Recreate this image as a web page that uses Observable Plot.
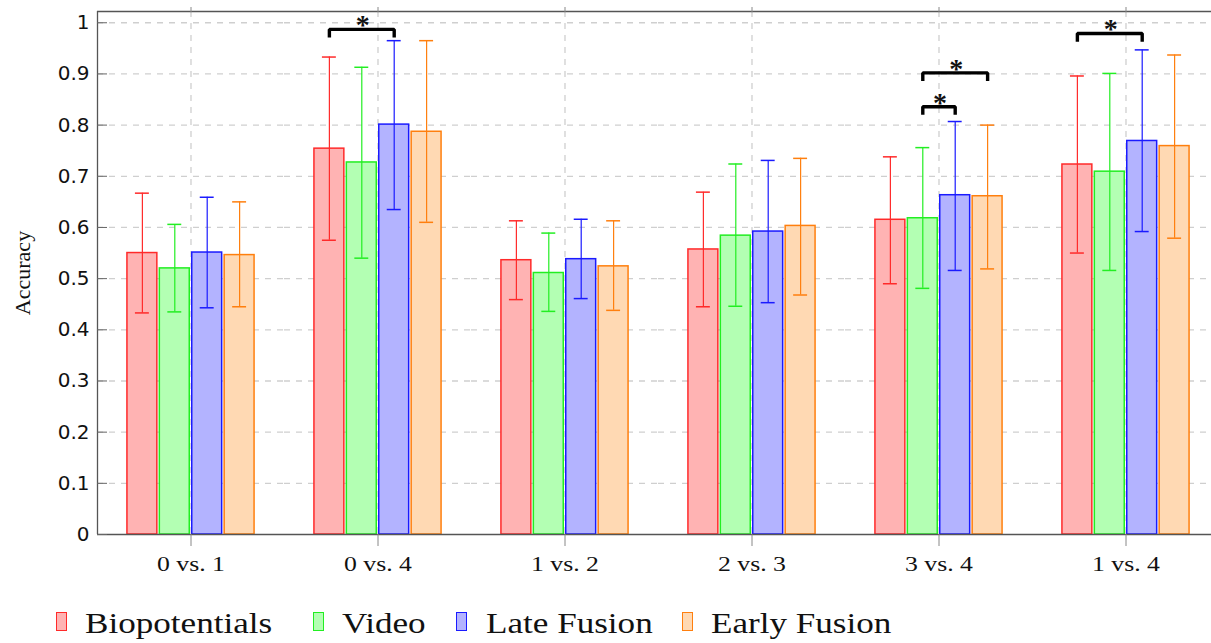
<!DOCTYPE html>
<html>
<head>
<meta charset="utf-8">
<script src="https://cdn.jsdelivr.net/npm/d3@7"></script>
<script src="https://cdn.jsdelivr.net/npm/@observablehq/plot@0.6"></script>
<style>
  html, body { margin: 0; padding: 0; background: #fff; overflow: hidden; }
  #wrap { position: relative; width: 1211px; height: 643px; overflow: hidden; background: #fff; }
  #legend { position: absolute; left: 0; top: 585px; width: 1211px; height: 58px; }
  .sw { position: absolute; top: 27px; width: 8.6px; height: 17px; border: 1.5px solid; }
  .tx { position: absolute; top: 23px; font-family: "Liberation Serif", serif; font-size: 30px; line-height: 1;
        transform: scaleX(1.17); transform-origin: left center; white-space: nowrap; color: #111; }
</style>
</head>
<body>
<div id="wrap"><div id="chart"></div><div id="legend"></div></div>
<script>
// ---------- data ----------
const groups = ["0 vs. 1", "0 vs. 4", "1 vs. 2", "2 vs. 3", "3 vs. 4", "1 vs. 4"];
const series = ["Biopotentials", "Video", "Late Fusion", "Early Fusion"];

const bioMean   = [0.550, 0.754, 0.536, 0.557, 0.615, 0.723];
const bioLow    = [0.433, 0.575, 0.459, 0.445, 0.490, 0.550];
const bioHigh   = [0.667, 0.933, 0.613, 0.669, 0.738, 0.896];

const videoMean = [0.520, 0.727, 0.511, 0.584, 0.618, 0.709];
const videoLow  = [0.435, 0.540, 0.436, 0.446, 0.481, 0.516];
const videoHigh = [0.606, 0.913, 0.589, 0.724, 0.756, 0.901];

const lateMean  = [0.551, 0.801, 0.538, 0.592, 0.663, 0.769];
const lateLow   = [0.443, 0.635, 0.461, 0.453, 0.516, 0.592];
const lateHigh  = [0.659, 0.965, 0.616, 0.731, 0.807, 0.947];

const earlyMean = [0.546, 0.787, 0.524, 0.603, 0.661, 0.759];
const earlyLow  = [0.445, 0.610, 0.438, 0.468, 0.519, 0.579];
const earlyHigh = [0.650, 0.965, 0.613, 0.735, 0.800, 0.937];

// significance brackets (series indices, bracket level)
const sigGroups = ["0 vs. 4", "3 vs. 4", "3 vs. 4", "1 vs. 4"];
const sigFrom   = [0, 1, 1, 0];
const sigTo     = [2, 2, 3, 2];
const sigLevel  = [0.987, 0.836, 0.902, 0.979];
const sigText   = ["*", "*", "*", "*"];

const yTicks = [0, 0.1, 0.2, 0.3, 0.4, 0.5, 0.6, 0.7, 0.8, 0.9, 1];
const yLabel = "Accuracy";

// ---------- styles ----------
const fills   = ["#ffb3b3", "#b3ffb3", "#b3b3ff", "#ffd9b3"];
const strokes = ["#ff2a2a", "#22ee22", "#1a1aff", "#ff7f0e"];
const gridColor = "#cfcfcf";
const frameColor = "#555";

// ---------- build tables ----------
const means = [bioMean, videoMean, lateMean, earlyMean];
const lows  = [bioLow, videoLow, lateLow, earlyLow];
const highs = [bioHigh, videoHigh, lateHigh, earlyHigh];

const rows = [];
series.forEach((s, si) => groups.forEach((g, gi) => rows.push({
  group: g, series: s, si, mean: means[si][gi], lo: lows[si][gi], hi: highs[si][gi]
})));

const mid = (series.length - 1) / 2;   // centre of a group, in bar steps
const halfSpan = 2.885;                // half width of a group slot, in bar steps
const barHalf = 0.4615;                // half width of a bar
const capHalf = 0.215;                 // half width of an error cap
const legLen = 0.016;                  // bracket leg length (accuracy units)
const yTop = 1.022;

const brackets = sigGroups.map((g, k) => ({group: g, k, from: sigFrom[k], to: sigTo[k], y: sigLevel[k], t: sigText[k]}));
const bracketPts = brackets.flatMap(b => [
  {group: b.group, k: b.k, x: b.from, y: b.y - legLen},
  {group: b.group, k: b.k, x: b.from, y: b.y},
  {group: b.group, k: b.k, x: b.to,   y: b.y},
  {group: b.group, k: b.k, x: b.to,   y: b.y - legLen}
]);

const plot = Plot.plot({
  width: 1221, height: 585,
  marginLeft: 95, marginRight: 1, marginTop: 11, marginBottom: 51,
  style: {background: "white", maxWidth: "none", overflow: "visible"},
  fx: {domain: groups, padding: 0},
  x: {domain: [mid - halfSpan, mid + halfSpan], axis: null},
  y: {domain: [0, yTop], axis: null},
  marks: [
    Plot.ruleY(yTicks.filter(t => t > 0), {stroke: gridColor, strokeWidth: 1.3, strokeDasharray: "6,6"}),
    Plot.ruleX([mid], {stroke: gridColor, strokeWidth: 1.3, strokeDasharray: "6,6"}),
    Plot.rect(rows, {fx: "group", x1: d => d.si - barHalf, x2: d => d.si + barHalf, y1: 0, y2: "mean",
      fill: d => fills[d.si], stroke: d => strokes[d.si], strokeWidth: 1.5}),
    Plot.ruleX(rows, {fx: "group", x: "si", y1: "lo", y2: "hi", stroke: d => strokes[d.si], strokeWidth: 1.2}),
    Plot.ruleY(rows, {fx: "group", y: "hi", x1: d => d.si - capHalf, x2: d => d.si + capHalf, stroke: d => strokes[d.si], strokeWidth: 1.5}),
    Plot.ruleY(rows, {fx: "group", y: "lo", x1: d => d.si - capHalf, x2: d => d.si + capHalf, stroke: d => strokes[d.si], strokeWidth: 1.5}),
    Plot.line(bracketPts, {fx: "group", x: "x", y: "y", z: "k", stroke: "#000", strokeWidth: 3.4,
      strokeLinejoin: "miter", strokeLinecap: "butt"}),
    Plot.text(brackets, {fx: "group", x: d => (d.from + d.to) / 2, y: "y", text: "t", dy: -4, dx: 1,
      fontFamily: "Liberation Serif", fontWeight: "bold", fontSize: 28, fill: "#111"}),
    Plot.ruleY([0, yTop], {stroke: frameColor, strokeWidth: 1.3}),
    Plot.ruleX([mid - halfSpan], {fx: () => groups[0], stroke: frameColor, strokeWidth: 1.3}),
    Plot.axisY({ticks: yTicks, tickFormat: d => String(d), tickSize: -10, tickPadding: 18,
      stroke: "#666", fill: "#111", fontFamily: "DejaVu Sans", fontSize: 20, label: null}),
    Plot.axisFx({anchor: "bottom", tickSize: 12, tickPadding: 9, stroke: "#888", fill: "#111",
      fontFamily: "Liberation Serif", fontSize: 22, label: null}),
    Plot.axisFx({anchor: "top", tickSize: 5, tickFormat: () => "", stroke: "#888", label: null}),
    Plot.text([yLabel], {fx: () => groups[0], frameAnchor: "left", textAnchor: "middle", lineAnchor: "middle",
      rotate: -90, dx: -75, fontFamily: "Liberation Serif", fontSize: 22, fill: "#111"})
  ]
});
document.getElementById("chart").appendChild(plot);

// stretch the serif group labels horizontally, like the reference
plot.querySelectorAll('g[aria-label="fx-axis tick label"] text').forEach(t => {
  const tr = t.getAttribute("transform");
  if (tr) t.setAttribute("transform", tr + " scale(1.17,1)");
});

// ---------- legend ----------
const legendSwatchX = [56, 313, 456, 682];
const legendTextX = [85, 342, 486, 711];
const legend = document.getElementById("legend");
series.forEach((s, i) => {
  const sw = document.createElement("div");
  sw.className = "sw";
  sw.style.left = legendSwatchX[i] + "px";
  sw.style.background = fills[i];
  sw.style.borderColor = strokes[i];
  legend.appendChild(sw);
  const tx = document.createElement("div");
  tx.className = "tx";
  tx.style.left = legendTextX[i] + "px";
  tx.textContent = s;
  legend.appendChild(tx);
});
</script>
</body>
</html>
